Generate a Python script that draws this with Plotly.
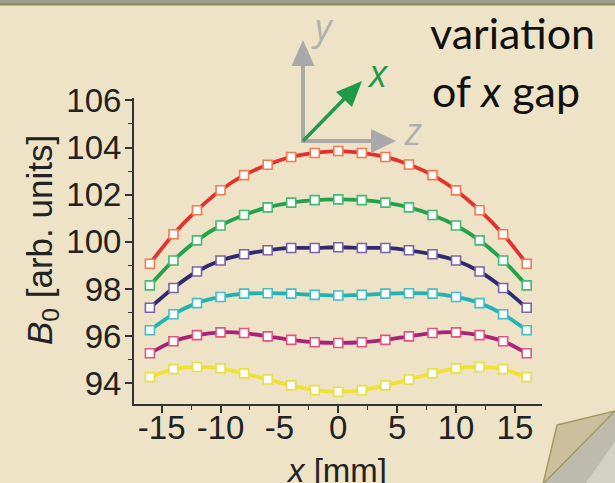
import plotly.graph_objects as go

# ---- data ----
x_mm = [-16, -14, -12, -10, -8, -6, -4, -2, 0, 2, 4, 6, 8, 10, 12, 14, 16]
red = [99.07, 100.32, 101.34, 102.19, 102.83, 103.27, 103.60, 103.77, 103.85,
       103.77, 103.60, 103.28, 102.83, 102.18, 101.34, 100.32, 99.07]
green = [98.15, 99.21, 100.06, 100.69, 101.14, 101.46, 101.66, 101.77, 101.80,
         101.77, 101.66, 101.46, 101.14, 100.69, 100.06, 99.21, 98.15]
navy = [97.20, 98.04, 98.74, 99.21, 99.47, 99.64, 99.74, 99.74, 99.77,
        99.74, 99.74, 99.64, 99.47, 99.21, 98.74, 98.04, 97.20]
cyan = [96.25, 96.93, 97.40, 97.66, 97.80, 97.82, 97.80, 97.75, 97.72,
        97.75, 97.80, 97.82, 97.80, 97.66, 97.40, 96.93, 96.25]
magenta = [95.27, 95.78, 96.04, 96.16, 96.13, 95.99, 95.84, 95.74, 95.71,
           95.74, 95.84, 95.99, 96.13, 96.16, 96.04, 95.78, 95.27]
yellow = [94.26, 94.60, 94.69, 94.63, 94.42, 94.16, 93.91, 93.71, 93.64,
          93.71, 93.91, 94.16, 94.42, 94.63, 94.69, 94.60, 94.26]

series = [
    (red, "#e0332d", "#f27a52"),
    (green, "#22a24a", "#45b872"),
    (navy, "#2f2b6e", "#7c62aa"),
    (cyan, "#22b2b4", "#45bcc6"),
    (magenta, "#a82379", "#e2557f"),
    (yellow, "#efe232", "#e6df45"),
]

x_ticks = [-15, -10, -5, 0, 5, 10, 15]
y_ticks = [94, 96, 98, 100, 102, 104, 106]

W, H = 615, 483
L, R, T, B = 134, 73, 98, 79
BG = "#eee3c6"


def px(x):
    return (x - L) / (W - L - R)


def py(y):
    return (H - B - y) / (H - T - B)


fig = go.Figure()
for vals, lc, mc in series:
    fig.add_trace(go.Scatter(
        x=x_mm, y=vals, mode="lines+markers",
        line=dict(color=lc, width=3.8, shape="spline", smoothing=0.8),
        marker=dict(symbol="square", size=9, color="white",
                    line=dict(color=mc, width=1.6)),
        showlegend=False, hoverinfo="skip"))

tickfont = dict(family="Liberation Sans, Arial", size=33, color="#222222")
fig.update_xaxes(range=[-17.35, 17.3], tickvals=x_ticks,
                 ticktext=[str(v) for v in x_ticks],
                 showline=True, linecolor="#333333", linewidth=2,
                 ticks="outside", ticklen=7, tickwidth=1.5, tickcolor="#333333",
                 ticklabelstandoff=-14,
                 minor=dict(ticks="outside", ticklen=4, tickwidth=1.2,
                            tickcolor="#333333", dtick=2.5, tick0=0),
                 showgrid=False, zeroline=False, tickfont=tickfont)
fig.update_yaxes(range=[93.12, 106.1], tickvals=y_ticks,
                 ticktext=[str(v) for v in y_ticks],
                 showline=True, linecolor="#333333", linewidth=2,
                 ticks="outside", ticklen=7, tickwidth=1.5, tickcolor="#333333",
                 ticklabelstandoff=-3,
                 minor=dict(ticks="outside", ticklen=4, tickwidth=1.2,
                            tickcolor="#333333", dtick=1, tick0=93),
                 showgrid=False, zeroline=False, tickfont=tickfont)

shapes = []
# top band
shapes.append(dict(type="rect", xref="paper", yref="paper",
                   x0=px(0), x1=px(W), y0=py(4), y1=py(-2),
                   fillcolor="#9d9c8f", line=dict(width=0), layer="above"))
shapes.append(dict(type="rect", xref="paper", yref="paper",
                   x0=px(0), x1=px(W), y0=py(5.5), y1=py(3.5),
                   fillcolor="#8e8650", line=dict(width=0), layer="above"))
# folded corner underside
shapes.append(dict(type="path", xref="paper", yref="paper",
                   path=f"M {px(615)} {py(411)} L {px(543)} {py(484)} L {px(616)} {py(484)} Z",
                   fillcolor="#bdbbad", line=dict(width=0), layer="above"))
shapes.append(dict(type="path", xref="paper", yref="paper",
                   path=f"M {px(616)} {py(440)} L {px(585)} {py(484)} L {px(616)} {py(484)} Z",
                   fillcolor="#d3d1c4", line=dict(width=0), layer="above"))
# folded flap
shapes.append(dict(type="path", xref="paper", yref="paper",
                   path=f"M {px(557)} {py(425)} L {px(615)} {py(411)} L {px(543)} {py(484)} Z",
                   fillcolor="#cbbf9d", line=dict(color="#a39a62", width=1.5), layer="above"))

# coordinate arrows
gray = "#a9a9a9"
ox, oy = 303, 141
shapes.append(dict(type="line", xref="paper", yref="paper",
                   x0=px(ox), y0=py(oy + 2), x1=px(ox), y1=py(64),
                   line=dict(color=gray, width=4)))
shapes.append(dict(type="path", xref="paper", yref="paper",
                   path=f"M {px(291.5)} {py(66)} L {px(303)} {py(40)} L {px(314.5)} {py(66)} Z",
                   fillcolor=gray, line=dict(width=0)))
shapes.append(dict(type="line", xref="paper", yref="paper",
                   x0=px(ox - 2), y0=py(oy), x1=px(373), y1=py(oy),
                   line=dict(color=gray, width=4)))
shapes.append(dict(type="path", xref="paper", yref="paper",
                   path=f"M {px(371)} {py(129)} L {px(396)} {py(141)} L {px(371)} {py(153)} Z",
                   fillcolor=gray, line=dict(width=0)))
gcol = "#1f9a4b"
shapes.append(dict(type="line", xref="paper", yref="paper",
                   x0=px(ox), y0=py(oy), x1=px(347), y1=py(96),
                   line=dict(color=gcol, width=3.5)))
shapes.append(dict(type="path", xref="paper", yref="paper",
                   path=f"M {px(336)} {py(92)} L {px(362)} {py(81)} L {px(352)} {py(107)} Z",
                   fillcolor=gcol, line=dict(width=0)))


def ann(text, x, y, size, color, family="Open Sans", xanchor="center", angle=0):
    return dict(text=text, x=px(x), y=py(y), xref="paper", yref="paper",
                xanchor=xanchor, yanchor="middle", textangle=angle,
                showarrow=False, font=dict(family=family, size=size, color=color))


annotations = [
    ann("<i>y</i>", 322, 27, 36, "#b0b0b0"),
    ann("<i>z</i>", 413, 130, 38, "#b0b0b0"),
    ann("<i>x</i>", 378, 72, 38, gcol),
    ann("variation", 428, 32, 43, "#111111", family="Lato", xanchor="left"),
    ann("of <i>x</i> gap", 430, 90, 43, "#111111", family="Lato", xanchor="left"),
    ann("<i>B</i><sub>0</sub> [arb. units]", 42, 240, 35, "#222222",
        family="Liberation Sans, Arial", angle=-90),
    ann("<i>x</i> [mm]", 336, 470, 33, "#222222", family="Liberation Sans, Arial"),
]

fig.update_layout(width=W, height=H, margin=dict(l=L, r=R, t=T, b=B),
                  paper_bgcolor=BG, plot_bgcolor=BG,
                  shapes=shapes, annotations=annotations)

fig.write_html("out.html")
